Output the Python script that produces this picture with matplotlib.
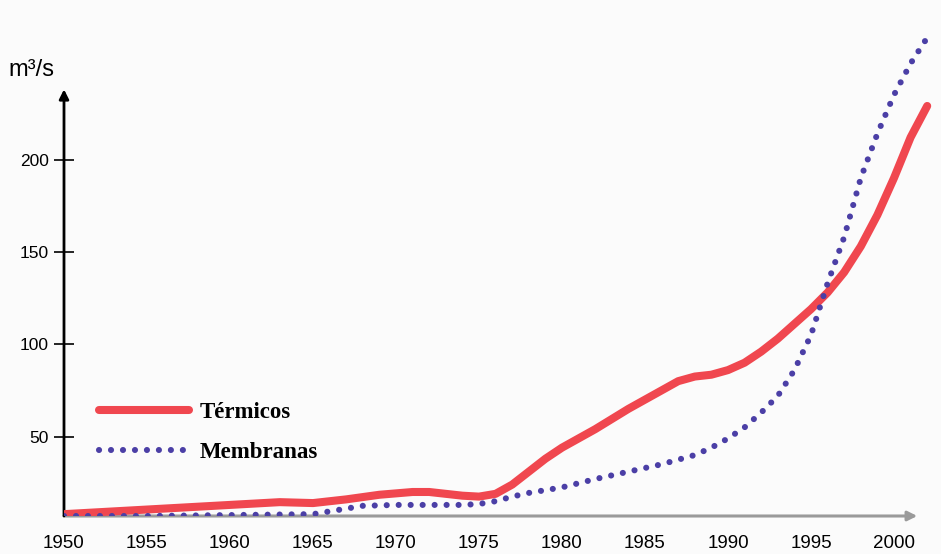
import matplotlib
matplotlib.use("Agg")
import matplotlib.pyplot as plt

# Caudal instalado de desalación por tecnología (m3/s)
years_term = [1950, 1952, 1955, 1958, 1960, 1963, 1965, 1967, 1969, 1971, 1972, 1973, 1974,
              1975, 1976, 1977, 1978, 1979, 1980, 1982, 1984, 1986, 1987, 1988, 1989, 1990,
              1991, 1992, 1993, 1994, 1995, 1996, 1997, 1998, 1999, 2000, 2001, 2002]
termicos = [8, 9, 10.5, 12, 13, 14.5, 14, 16, 18.5, 20, 20, 19, 18,
            17.5, 19, 24, 31, 38, 44, 54, 65, 75, 80, 82.5, 83.5, 86,
            90, 96, 103, 111, 119, 128, 139, 153, 170, 190, 212, 229]

years_memb = [1950, 1955, 1960, 1965, 1966, 1967, 1968, 1970, 1972, 1974, 1975, 1976,
              1977, 1978, 1980, 1982, 1984, 1986, 1988, 1989, 1990, 1991, 1992, 1993,
              1994, 1995, 1996, 1997, 1998, 1999, 2000, 2001, 2002]
membranas = [7, 7, 7.5, 8, 9.5, 11, 12.5, 13, 13, 13, 13.5, 15,
             17.5, 19.5, 22.5, 27, 31, 35, 40, 44, 49, 55, 63, 72,
             86, 105, 133, 158, 190, 214, 235, 252, 266]

xticks = [1950, 1955, 1960, 1965, 1970, 1975, 1980, 1985, 1990, 1995, 2000]
yticks = [50, 100, 150, 200]

W, H = 941, 554
fig = plt.figure(figsize=(W / 100, H / 100), dpi=100, facecolor="#fbfbfb")
ax = fig.add_axes([64 / W, (H - 516) / H, (W - 64) / W, 516 / H])
ax.set_facecolor("#fbfbfb")

ymin = 7
ax.set_xlim(1950, 1950 + (W - 64) / 16.6)
ax.set_ylim(ymin, ymin + 516 / 1.847)

ax.plot(years_term, termicos, color="#f0474f", lw=5.8, solid_capstyle="round",
        solid_joinstyle="round", label="Térmicos", zorder=3)
ax.plot(years_memb, membranas, color="#4b3fa6", lw=4.4, linestyle=(0, (0.01, 1.95)),
        dash_capstyle="round", label="Membranas", zorder=4)

for s in ax.spines.values():
    s.set_visible(False)

# ejes con flecha
ax.annotate("", xy=(2001.4, ymin), xytext=(1950, ymin),
            arrowprops=dict(arrowstyle="-|>", color="#9a9a9a", lw=2.2,
                            mutation_scale=14, shrinkA=0, shrinkB=0), zorder=1)
ax.annotate("", xy=(1950, 238), xytext=(1950, ymin),
            arrowprops=dict(arrowstyle="-|>", color="black", lw=2,
                            mutation_scale=14, shrinkA=0, shrinkB=0), zorder=2)

ax.set_xticks(xticks)
ax.set_xticklabels([str(x) for x in xticks], fontfamily="Liberation Sans", fontsize=13.5)
ax.tick_params(axis="x", length=0, pad=14)

ax.set_yticks(yticks)
ax.set_yticklabels([str(y) for y in yticks], fontfamily="Liberation Sans", fontsize=12.5)
ax.tick_params(axis="y", direction="inout", length=14, width=1.2, pad=4)

fig.text(8 / W, 1 - 70 / H, "m³/s", fontsize=17, fontfamily="Liberation Sans",
         va="center", ha="left")

leg = ax.legend(loc="upper left", bbox_to_anchor=(78 / W, 1 - 381 / H),
                bbox_transform=fig.transFigure, frameon=False, handlelength=3.95,
                labelspacing=0.85, handletextpad=0.45,
                prop=dict(family="Liberation Serif", weight="bold", size=16.5))

fig.savefig("out.png", dpi=100, facecolor=fig.get_facecolor())
